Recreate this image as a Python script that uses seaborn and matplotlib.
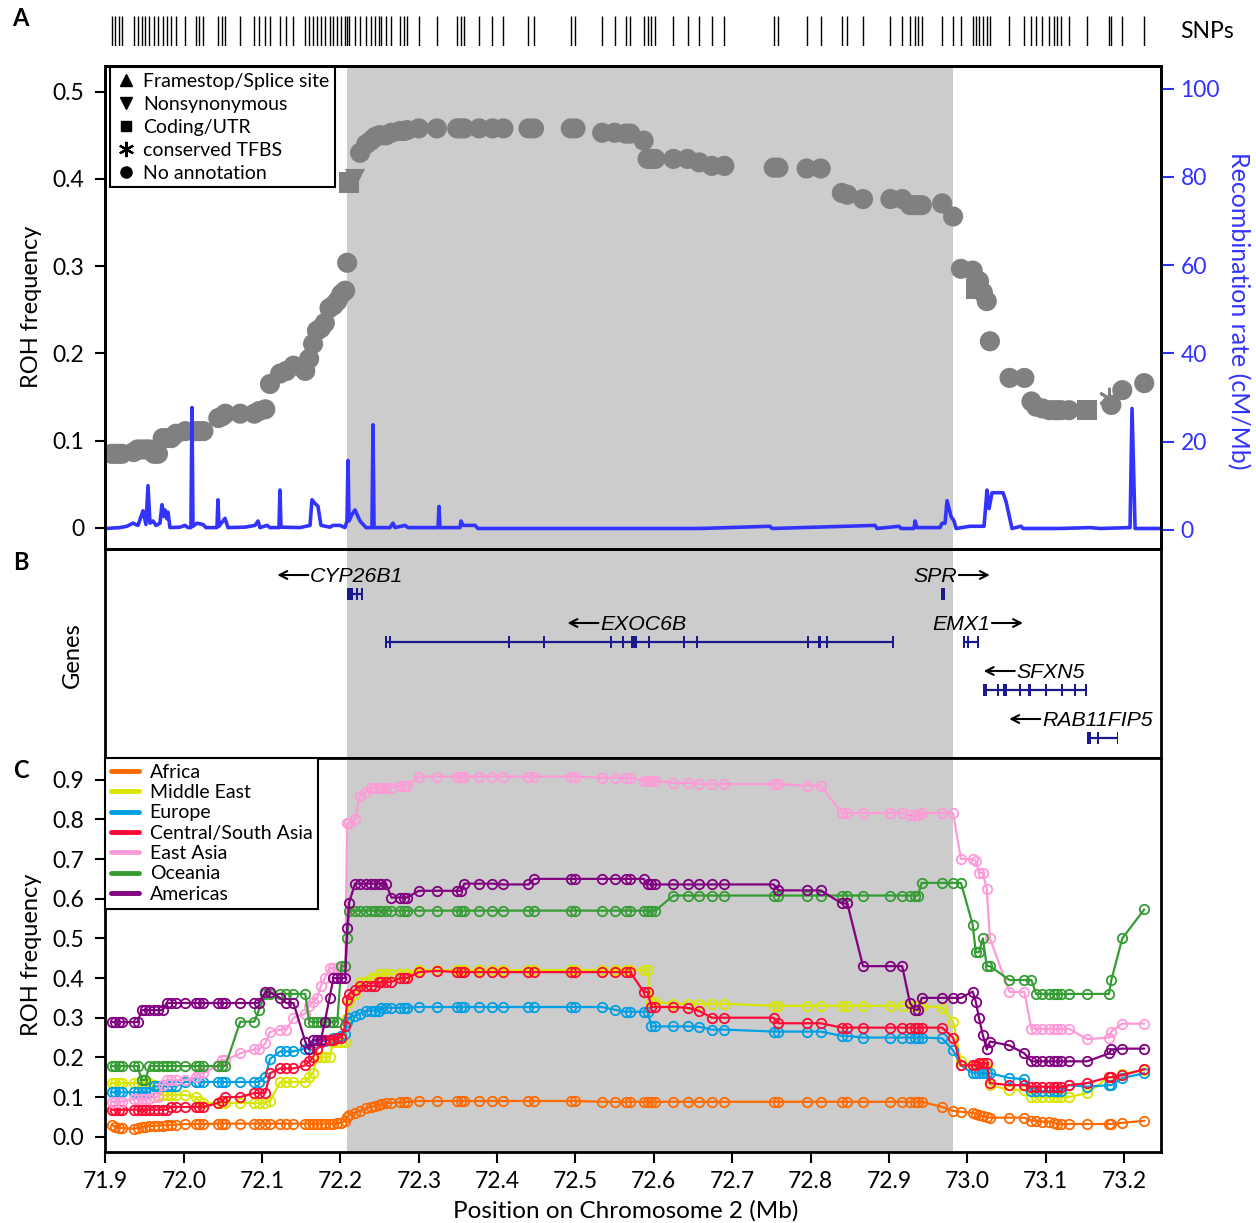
import matplotlib
matplotlib.use("Agg")
import matplotlib.pyplot as plt
from matplotlib.lines import Line2D
from matplotlib.patches import Rectangle
import numpy as np
import pandas as pd
import seaborn as sns

# ------------------------------------------------------------------ data
snp_pos = [
    71.908, 71.912, 71.917, 71.921, 71.936, 71.941, 71.946, 71.951, 71.956, 71.962,
    71.967, 71.973, 71.978, 71.984, 71.990, 72.002, 72.015, 72.020, 72.025, 72.044,
    72.049, 72.053, 72.072, 72.090, 72.096, 72.104, 72.110, 72.123, 72.131, 72.140,
    72.155, 72.160, 72.165, 72.170, 72.175, 72.180, 72.186, 72.191, 72.196, 72.201,
    72.206, 72.2085, 72.211, 72.2185,
    72.225, 72.233, 72.239, 72.244, 72.249, 72.252, 72.258,
    72.265, 72.276, 72.281, 72.285, 72.300, 72.323, 72.349, 72.354, 72.358, 72.377,
    72.394, 72.408, 72.440, 72.447, 72.494, 72.500, 72.534, 72.550, 72.564, 72.570,
    72.587, 72.592, 72.597, 72.602, 72.625, 72.643, 72.658, 72.674, 72.690, 72.753,
    72.759, 72.795, 72.813, 72.840, 72.847, 72.867, 72.902, 72.917, 72.927, 72.933,
    72.937, 72.942, 72.968, 72.982, 72.992, 73.007, 73.011, 73.015, 73.020, 73.025,
    73.029, 73.054, 73.073, 73.082, 73.088, 73.096, 73.105, 73.111, 73.115, 73.120,
    73.130, 73.153, 73.181, 73.184, 73.198, 73.226]

roh_all = [
    0.085, 0.085, 0.085, 0.085, 0.087, 0.090, 0.090, 0.090, 0.090, 0.085,
    0.085, 0.103, 0.103, 0.103, 0.108, 0.111, 0.111, 0.111, 0.111, 0.126,
    0.128, 0.131, 0.131, 0.131, 0.134, 0.136, 0.165, 0.177, 0.180, 0.186,
    0.180, 0.194, 0.211, 0.226, 0.229, 0.235, 0.252, 0.255, 0.260, 0.268,
    0.272, 0.304, 0.396, 0.400,
    0.430, 0.440, 0.444, 0.448, 0.450, 0.450, 0.450,
    0.453, 0.455, 0.455, 0.456, 0.458, 0.458, 0.458, 0.458, 0.458, 0.458,
    0.458, 0.458, 0.458, 0.458, 0.458, 0.458, 0.453, 0.453, 0.452, 0.452,
    0.444, 0.423, 0.423, 0.423, 0.423, 0.423, 0.419, 0.415, 0.415, 0.413,
    0.413, 0.412, 0.412, 0.384, 0.382, 0.377, 0.377, 0.377, 0.370, 0.370,
    0.370, 0.370, 0.372, 0.357, 0.297, 0.295, 0.274, 0.283, 0.270, 0.260,
    0.214, 0.172, 0.172, 0.145, 0.139, 0.137, 0.135, 0.135, 0.135, 0.135,
    0.135, 0.135, 0.149, 0.141, 0.158, 0.166]

annot_categories = ["Framestop/Splice site", "Nonsynonymous", "Coding/UTR",
                    "conserved TFBS", "No annotation"]
annot_pos = [72.211, 72.2185, 73.011, 73.153, 73.181]
annot_type = ["Coding/UTR", "Nonsynonymous", "Coding/UTR", "Coding/UTR", "conserved TFBS"]

recomb_pos = [
    71.900, 71.9185, 71.9274, 71.9351, 71.9415, 71.9479, 71.9517, 71.9543, 71.9568, 71.9606,
    71.9645, 71.9696, 71.9721, 71.9747, 71.9760, 71.9785, 71.9798, 71.9823, 71.9951, 72.0015,
    72.0053, 72.0091, 72.0104, 72.0117, 72.0168, 72.0245, 72.0283, 72.0423, 72.0436, 72.0449,
    72.0526, 72.0564, 72.0781, 72.0909, 72.0947, 72.0972, 72.1062, 72.1100, 72.1215, 72.1228,
    72.1240, 72.1483, 72.1611, 72.1636, 72.1674, 72.1713, 72.1751, 72.1866, 72.1904, 72.1994,
    72.2057, 72.2083, 72.2096, 72.2109, 72.2147, 72.2185, 72.2249, 72.2326, 72.2402, 72.2415,
    72.2428, 72.2632, 72.2670, 72.2696, 72.2823, 72.2862, 72.3245, 72.3257, 72.3270, 72.3526,
    72.3538, 72.3564, 72.3717, 72.3755, 72.5313, 72.6589, 72.7483, 72.7509, 72.8823, 72.8849,
    72.9130, 72.9155, 72.9321, 72.9334, 72.9360, 72.9653, 72.9679, 72.9717, 72.9743, 72.9794,
    72.9832, 72.9858, 73.0036, 73.0215, 73.0253, 73.0279, 73.0317, 73.0457, 73.0496, 73.0572,
    73.0687, 73.0713, 73.1185, 73.1568, 73.1696, 73.2079, 73.2104, 73.2143, 73.2474]
recomb_rate = [
    0.3, 0.5, 0.8, 1.5, 1.0, 4.3, 1.2, 10.0, 1.5, 2.0,
    1.0, 1.5, 5.7, 3.0, 4.5, 2.5, 4.0, 0.5, 0.6, 1.0,
    0.5, 0.5, 27.7, 0.8, 1.5, 1.2, 0.5, 0.5, 6.8, 0.8,
    2.6, 0.5, 0.6, 1.0, 2.0, 0.5, 1.0, 0.5, 0.5, 9.0,
    0.6, 0.5, 1.0, 6.8, 6.0, 5.3, 1.0, 0.6, 1.0, 1.0,
    0.5, 2.0, 15.7, 2.0, 3.5, 4.5, 2.0, 0.5, 0.5, 23.8,
    0.5, 0.5, 1.5, 0.5, 1.0, 0.5, 0.5, 5.3, 0.5, 0.5,
    2.0, 1.0, 1.0, 0.3, 0.3, 0.3, 0.8, 0.3, 1.0, 0.3,
    0.8, 0.3, 0.3, 2.0, 0.5, 0.5, 1.5, 1.5, 6.6, 3.0,
    2.0, 0.3, 0.8, 0.8, 9.0, 4.8, 8.4, 8.4, 6.4, 0.3,
    0.8, 0.3, 0.3, 0.5, 0.3, 0.5, 27.5, 0.3, 0.3]

gene_names = ["CYP26B1", "EXOC6B", "SPR", "EMX1", "SFXN5", "RAB11FIP5"]
gene_start = [72.2083, 72.2581, 72.9666, 72.9960, 73.0202, 73.1530]
gene_end = [72.2287, 72.9053, 72.9717, 73.0138, 73.1517, 73.1925]
gene_strand = ["-", "-", "+", "+", "-", "-"]
gene_row = [0, 1, 0, 1, 2, 3]
gene_exons = [
    [(72.2083, 72.2160), (72.2211, 72.2211), (72.2262, 72.2287)],
    [(72.2581, 72.2581), (72.2632, 72.2632), (72.4151, 72.4151), (72.4598, 72.4598),
     (72.5453, 72.5453), (72.5606, 72.5606), (72.5709, 72.5785), (72.5926, 72.5951),
     (72.6385, 72.6385), (72.6551, 72.6551), (72.7968, 72.7968), (72.8096, 72.8134),
     (72.8211, 72.8211), (72.9053, 72.9053)],
    [(72.9666, 72.9717)],
    [(72.9960, 72.9960), (73.0011, 73.0011), (73.0138, 73.0138)],
    [(73.0202, 73.0253), (73.0393, 73.0393), (73.0457, 73.0509), (73.0674, 73.0674),
     (73.0777, 73.0815), (73.0993, 73.1019), (73.1211, 73.1211), (73.1376, 73.1376),
     (73.1517, 73.1517)],
    [(73.1530, 73.1581), (73.1670, 73.1670), (73.1913, 73.1925)],
]

pop_names = ["Africa", "Middle East", "Europe", "Central/South Asia",
             "East Asia", "Oceania", "Americas"]

africa = [
    0.030, 0.025, 0.022, 0.022, 0.020, 0.022, 0.024, 0.025, 0.027, 0.027,
    0.028, 0.028, 0.030, 0.030, 0.030, 0.032, 0.032, 0.032, 0.032, 0.033,
    0.033, 0.033, 0.033, 0.033, 0.033, 0.033, 0.033, 0.033, 0.033, 0.033,
    0.033, 0.033, 0.033, 0.033, 0.033, 0.033, 0.033, 0.033, 0.034, 0.035,
    0.040, 0.050, 0.055, 0.060,
    0.065, 0.072, 0.075, 0.078, 0.080, 0.082, 0.085,
    0.085, 0.087, 0.088, 0.088, 0.090, 0.090, 0.090, 0.090, 0.090, 0.090,
    0.090, 0.090, 0.090, 0.090, 0.090, 0.090, 0.088, 0.088, 0.088, 0.088,
    0.088, 0.088, 0.088, 0.088, 0.088, 0.088, 0.088, 0.088, 0.088, 0.088,
    0.088, 0.088, 0.088, 0.088, 0.088, 0.088, 0.088, 0.088, 0.088, 0.088,
    0.088, 0.088, 0.075, 0.065, 0.063, 0.060, 0.058, 0.055, 0.052, 0.050,
    0.048, 0.048, 0.048, 0.040, 0.040, 0.038, 0.038, 0.035, 0.032, 0.032,
    0.032, 0.032, 0.032, 0.032, 0.035, 0.040]

middle_east = [
    0.135, 0.135, 0.135, 0.135, 0.135, 0.135, 0.135, 0.135, 0.135, 0.130,
    0.105, 0.105, 0.105, 0.105, 0.105, 0.105, 0.100, 0.090, 0.085, 0.085,
    0.085, 0.085, 0.085, 0.085, 0.085, 0.085, 0.090, 0.138, 0.138, 0.138,
    0.138, 0.150, 0.160, 0.200, 0.200, 0.200, 0.200, 0.240, 0.240, 0.240,
    0.240, 0.300, 0.340, 0.360,
    0.390, 0.390, 0.400, 0.400, 0.410, 0.410, 0.410,
    0.410, 0.410, 0.410, 0.410, 0.420, 0.420, 0.420, 0.420, 0.420, 0.420,
    0.420, 0.420, 0.420, 0.420, 0.420, 0.420, 0.420, 0.420, 0.420, 0.420,
    0.420, 0.420, 0.340, 0.340, 0.335, 0.335, 0.335, 0.335, 0.335, 0.330,
    0.330, 0.330, 0.330, 0.330, 0.330, 0.330, 0.330, 0.330, 0.330, 0.330,
    0.330, 0.330, 0.325, 0.290, 0.190, 0.180, 0.180, 0.180, 0.180, 0.175,
    0.130, 0.118, 0.118, 0.100, 0.100, 0.100, 0.100, 0.100, 0.100, 0.100,
    0.100, 0.110, 0.150, 0.150, 0.158, 0.168]

europe = [
    0.112, 0.112, 0.112, 0.112, 0.112, 0.112, 0.112, 0.112, 0.112, 0.127,
    0.127, 0.127, 0.127, 0.127, 0.127, 0.138, 0.138, 0.138, 0.138, 0.138,
    0.138, 0.138, 0.138, 0.138, 0.138, 0.150, 0.196, 0.215, 0.215, 0.215,
    0.222, 0.222, 0.230, 0.236, 0.240, 0.242, 0.245, 0.248, 0.250, 0.255,
    0.260, 0.290, 0.300, 0.305,
    0.310, 0.318, 0.318, 0.318, 0.318, 0.325, 0.325,
    0.325, 0.325, 0.325, 0.325, 0.327, 0.327, 0.327, 0.327, 0.327, 0.327,
    0.327, 0.327, 0.327, 0.327, 0.327, 0.327, 0.327, 0.320, 0.315, 0.315,
    0.315, 0.315, 0.278, 0.278, 0.278, 0.278, 0.277, 0.270, 0.270, 0.265,
    0.265, 0.265, 0.265, 0.254, 0.254, 0.250, 0.250, 0.250, 0.250, 0.250,
    0.250, 0.250, 0.248, 0.218, 0.180, 0.160, 0.160, 0.160, 0.160, 0.160,
    0.160, 0.148, 0.145, 0.115, 0.115, 0.115, 0.115, 0.115, 0.115, 0.115,
    0.130, 0.126, 0.130, 0.130, 0.148, 0.160]

central_south_asia = [
    0.068, 0.068, 0.068, 0.068, 0.068, 0.068, 0.068, 0.068, 0.068, 0.068,
    0.068, 0.068, 0.068, 0.075, 0.075, 0.075, 0.075, 0.075, 0.075, 0.085,
    0.090, 0.100, 0.100, 0.110, 0.110, 0.110, 0.160, 0.172, 0.172, 0.172,
    0.180, 0.190, 0.200, 0.220, 0.240, 0.245, 0.245, 0.245, 0.250, 0.250,
    0.280, 0.345, 0.360, 0.370,
    0.380, 0.380, 0.380, 0.380, 0.390, 0.390, 0.390,
    0.390, 0.400, 0.400, 0.400, 0.415, 0.418, 0.415, 0.415, 0.415, 0.415,
    0.415, 0.415, 0.415, 0.415, 0.415, 0.415, 0.415, 0.415, 0.415, 0.415,
    0.365, 0.365, 0.327, 0.327, 0.327, 0.325, 0.317, 0.300, 0.300, 0.300,
    0.286, 0.286, 0.286, 0.275, 0.275, 0.275, 0.275, 0.275, 0.275, 0.275,
    0.275, 0.275, 0.275, 0.250, 0.180, 0.180, 0.180, 0.185, 0.185, 0.185,
    0.135, 0.130, 0.130, 0.126, 0.126, 0.126, 0.126, 0.126, 0.126, 0.126,
    0.130, 0.135, 0.150, 0.150, 0.155, 0.170]

east_asia = [
    0.088, 0.088, 0.088, 0.088, 0.095, 0.095, 0.095, 0.095, 0.095, 0.100,
    0.100, 0.130, 0.143, 0.143, 0.143, 0.143, 0.150, 0.160, 0.160, 0.180,
    0.193, 0.193, 0.210, 0.220, 0.220, 0.235, 0.264, 0.270, 0.270, 0.300,
    0.310, 0.330, 0.340, 0.350, 0.380, 0.400, 0.425, 0.425, 0.425, 0.425,
    0.425, 0.790, 0.790, 0.800,
    0.860, 0.870, 0.880, 0.880, 0.880, 0.880, 0.880,
    0.880, 0.885, 0.885, 0.885, 0.908, 0.908, 0.908, 0.908, 0.908, 0.908,
    0.908, 0.908, 0.908, 0.908, 0.908, 0.908, 0.905, 0.905, 0.905, 0.905,
    0.897, 0.897, 0.897, 0.897, 0.892, 0.892, 0.889, 0.889, 0.889, 0.889,
    0.889, 0.885, 0.885, 0.816, 0.816, 0.816, 0.816, 0.816, 0.810, 0.810,
    0.810, 0.816, 0.816, 0.816, 0.700, 0.700, 0.695, 0.665, 0.665, 0.625,
    0.500, 0.365, 0.365, 0.272, 0.272, 0.272, 0.272, 0.272, 0.272, 0.272,
    0.272, 0.246, 0.250, 0.265, 0.285, 0.285]

oceania = [
    0.178, 0.178, 0.178, 0.178, 0.178, 0.178, 0.143, 0.143, 0.178, 0.178,
    0.178, 0.178, 0.178, 0.178, 0.178, 0.178, 0.178, 0.178, 0.178, 0.178,
    0.178, 0.178, 0.290, 0.290, 0.320, 0.360, 0.360, 0.360, 0.360, 0.360,
    0.360, 0.290, 0.290, 0.290, 0.290, 0.290, 0.290, 0.290, 0.290, 0.430,
    0.430, 0.500, 0.570, 0.570,
    0.570, 0.570, 0.570, 0.570, 0.570, 0.570, 0.570,
    0.570, 0.570, 0.570, 0.570, 0.570, 0.570, 0.570, 0.570, 0.570, 0.570,
    0.570, 0.570, 0.570, 0.570, 0.570, 0.570, 0.570, 0.570, 0.570, 0.570,
    0.570, 0.570, 0.570, 0.570, 0.608, 0.608, 0.608, 0.608, 0.608, 0.608,
    0.608, 0.608, 0.608, 0.608, 0.608, 0.608, 0.608, 0.608, 0.608, 0.608,
    0.608, 0.640, 0.640, 0.640, 0.640, 0.535, 0.465, 0.465, 0.500, 0.430,
    0.430, 0.395, 0.395, 0.395, 0.360, 0.360, 0.360, 0.360, 0.360, 0.360,
    0.360, 0.360, 0.360, 0.395, 0.500, 0.573]

americas = [
    0.289, 0.289, 0.289, 0.289, 0.289, 0.289, 0.319, 0.319, 0.319, 0.319,
    0.319, 0.319, 0.337, 0.337, 0.337, 0.337, 0.337, 0.337, 0.337, 0.337,
    0.337, 0.337, 0.337, 0.337, 0.337, 0.365, 0.365, 0.350, 0.337, 0.337,
    0.240, 0.220, 0.244, 0.244, 0.244, 0.290, 0.350, 0.400, 0.400, 0.400,
    0.400, 0.525, 0.590, 0.638,
    0.638, 0.638, 0.638, 0.638, 0.638, 0.638, 0.638,
    0.603, 0.603, 0.603, 0.603, 0.620, 0.620, 0.620, 0.620, 0.638, 0.638,
    0.638, 0.636, 0.636, 0.650, 0.650, 0.650, 0.650, 0.650, 0.650, 0.650,
    0.650, 0.636, 0.636, 0.636, 0.636, 0.636, 0.636, 0.636, 0.636, 0.636,
    0.621, 0.621, 0.621, 0.588, 0.588, 0.430, 0.430, 0.430, 0.337, 0.320,
    0.320, 0.350, 0.350, 0.350, 0.350, 0.366, 0.340, 0.300, 0.256, 0.220,
    0.240, 0.230, 0.210, 0.190, 0.190, 0.190, 0.190, 0.190, 0.190, 0.190,
    0.190, 0.190, 0.210, 0.220, 0.222, 0.222]

x_ticks = [71.9, 72.0, 72.1, 72.2, 72.3, 72.4, 72.5, 72.6, 72.7, 72.8, 72.9, 73.0, 73.1, 73.2]
x_ticklabels = ["71.9", "72.0", "72.1", "72.2", "72.3", "72.4", "72.5", "72.6",
                "72.7", "72.8", "72.9", "73.0", "73.1", "73.2"]
a_yticks = [0, 0.1, 0.2, 0.3, 0.4, 0.5]
a_yticklabels = ["0", "0.1", "0.2", "0.3", "0.4", "0.5"]
r_yticks = [0, 20, 40, 60, 80, 100]
c_yticks = [0.0, 0.1, 0.2, 0.3, 0.4, 0.5, 0.6, 0.7, 0.8, 0.9]
c_yticklabels = ["0.0", "0.1", "0.2", "0.3", "0.4", "0.5", "0.6", "0.7", "0.8", "0.9"]
shade_region = (72.2087, 72.9820)

# ------------------------------------------------------------------ style
sns.set_style("ticks", {"axes.edgecolor": "black", "text.color": "black",
                        "xtick.color": "black", "ytick.color": "black",
                        "axes.labelcolor": "black"})
plt.rcParams["font.family"] = ["Lato", "DejaVu Sans"]

pop_colors = ["#ff6a00", "#d8e600", "#009fe3", "#ff0a35", "#ff9ad8", "#359c33", "#800080"]
gray = "#808080"
blue = "#3333ff"
navy = "#1a1a8c"
shade = "#cccccc"

W, H = 1256, 1223
fig = plt.figure(figsize=(W / 100, H / 100), dpi=100)


def rect(x0, y0, x1, y1):
    return [x0 / W, 1 - y1 / H, (x1 - x0) / W, (y1 - y0) / H]


XL = (71.8994, 73.2474)
ax_snp = fig.add_axes(rect(105, 16, 1161, 46))
axA = fig.add_axes(rect(105, 66, 1161, 549))
axB = fig.add_axes(rect(105, 549, 1161, 758))
axC = fig.add_axes(rect(105, 758, 1161, 1152))

for ax in (ax_snp, axA, axB, axC):
    ax.set_xlim(*XL)

# ---- SNP strip
sns.rugplot(x=snp_pos, height=1.0, ax=ax_snp, color="black", lw=1.8, expand_margins=False)
ax_snp.set_ylim(0, 1)
ax_snp.axis("off")

# ---- Panel A
axA.axvspan(*shade_region, color=shade, lw=0, zorder=0)
dfA = pd.DataFrame({"pos": snp_pos, "roh": roh_all})
amap = dict(zip(annot_pos, annot_type))
dfA["annot"] = [amap.get(p, "No annotation") for p in snp_pos]
star = dfA[dfA["annot"] == "conserved TFBS"]
axA.scatter(star["pos"], star["roh"], marker=(6, 2, 0), s=190, color=gray,
            linewidths=2, zorder=2)
filled = dfA[dfA["annot"] != "conserved TFBS"]
sns.scatterplot(data=filled, x="pos", y="roh", style="annot",
                markers={"No annotation": "o", "Coding/UTR": "s", "Nonsynonymous": "v",
                         "Framestop/Splice site": "^"},
                s=210, color=gray, linewidth=0, legend=False, ax=axA, zorder=3)
axA.set_ylim(-0.0241, 0.5295)
axA.set_yticks(a_yticks)
axA.set_yticklabels(a_yticklabels)
axA.set_xticks([])
axA.set_xlabel("")
axA.set_ylabel("")

axR = axA.twinx()
sns.lineplot(x=recomb_pos, y=recomb_rate, ax=axR, color=blue, lw=2.6,
             estimator=None, sort=False)
axR.set_xlim(*XL)
axR.set_ylim(-4.35, 105.1)
axR.set_yticks(r_yticks)
axR.tick_params(axis="y", colors=blue, labelsize=16.5, length=9, width=1.5, pad=5)
axR.set_ylabel("")

hA = [Line2D([], [], ls="none", marker="^", color="k", ms=9),
      Line2D([], [], ls="none", marker="v", color="k", ms=9),
      Line2D([], [], ls="none", marker="s", color="k", ms=7),
      Line2D([], [], ls="none", marker=(6, 2, 0), color="k", ms=11, mew=1.6),
      Line2D([], [], ls="none", marker="o", color="k", ms=8)]
legA = axA.legend(hA, annot_categories, loc="upper left", bbox_to_anchor=(5 / 1056, 0.997),
                  borderaxespad=0, frameon=True, fancybox=False, edgecolor="black",
                  framealpha=1, fontsize=14, handlelength=1.0, handletextpad=0.4,
                  labelspacing=0.3, borderpad=0.3)
legA.get_frame().set_linewidth(1.5)

# ---- Panel B
axB.axvspan(*shade_region, color=shade, lw=0, zorder=0)
axB.set_ylim(0, 209)
axB.set_xticks([])
axB.set_yticks([])
mb_per_px = (XL[1] - XL[0]) / 1056
label_x = {"CYP26B1": 72.2211, "EXOC6B": 72.5868, "SPR": 72.9589,
           "EMX1": 72.9921, "SFXN5": 73.1070, "RAB11FIP5": 73.1664}
texts = []
for name, s, e, strand, r, exons in zip(gene_names, gene_start, gene_end,
                                        gene_strand, gene_row, gene_exons):
    y = 164 - 48 * r
    axB.plot([s, e], [y, y], color=navy, lw=1.6, solid_capstyle="butt", zorder=3)
    for a, b in exons:
        if b > a:
            axB.add_patch(Rectangle((a, y - 6), b - a, 12, facecolor=navy,
                                    edgecolor="none", zorder=3))
        else:
            w = 2.2 * mb_per_px
            axB.add_patch(Rectangle((a - w / 2, y - 6), w, 12, facecolor=navy,
                                    edgecolor="none", zorder=3))
    yl = y + 19
    t = axB.text(label_x[name], yl - 7.5, name, ha="center", va="baseline",
                 fontsize=15.3, style="italic", family=["Liberation Sans", "DejaVu Sans"],
                 zorder=4)
    texts.append((t, strand, yl))

# ---- Panel C
axC.axvspan(*shade_region, color=shade, lw=0, zorder=0)
pop_values = [africa, middle_east, europe, central_south_asia, east_asia, oceania, americas]
for name, vals, col in zip(pop_names, pop_values, pop_colors):
    sns.lineplot(x=snp_pos, y=vals, ax=axC, color=col, lw=1.6, marker="o",
                 markersize=6.8, markerfacecolor="none", markeredgecolor=col,
                 markeredgewidth=1.3, estimator=None, sort=False, legend=False)
axC.set_ylim(-0.0386, 0.9548)
axC.set_yticks(c_yticks)
axC.set_yticklabels(c_yticklabels)
axC.set_xticks(x_ticks)
axC.set_xticklabels(x_ticklabels)
axC.set_xlabel("")
axC.set_ylabel("")
hC = [Line2D([], [], color=c, lw=3.5) for c in pop_colors]
legC = axC.legend(hC, pop_names, loc="upper left", bbox_to_anchor=(0.0, 1.0),
                  borderaxespad=0, frameon=True, fancybox=False, edgecolor="black",
                  framealpha=1, fontsize=14, handlelength=1.45, handletextpad=0.55,
                  labelspacing=0.17, borderpad=0.3)
legC.get_frame().set_linewidth(1.5)

# ---- common styling
for ax in (axA, axB, axC, axR):
    for sp in ax.spines.values():
        sp.set_linewidth(2)
        sp.set_color("black")
for ax in (axA, axC):
    ax.tick_params(axis="both", direction="out", length=7, width=1.5, labelsize=16.5, pad=8)
axC.tick_params(axis="x", length=8, pad=6)

# ---- text labels
def ftext(x, y, s, **kw):
    fig.text(x / W, 1 - y / H, s, ha="center", va="center", **kw)

ftext(20, 18, "A", fontsize=17, fontweight="bold")
ftext(21, 562, "B", fontsize=17, fontweight="bold")
ftext(21, 770, "C", fontsize=17, fontweight="bold")
ftext(31, 307, "ROH frequency", fontsize=17, rotation=90)
ftext(72, 655, "Genes", fontsize=17, rotation=90)
ftext(31, 955, "ROH frequency", fontsize=17, rotation=90)
ftext(1238, 311, "Recombination rate (cM/Mb)", fontsize=18, rotation=270, color=blue)
ftext(626, 1211, "Position on Chromosome 2 (Mb)", fontsize=17.5)
ftext(1207, 32, "SNPs", fontsize=16.5)

# ---- gene arrows (placed next to rendered labels)
fig.canvas.draw()
inv = axB.transData.inverted()
for t, strand, yl in texts:
    bb = t.get_window_extent()
    if strand == "-":
        tail, head = bb.x0 - 2, bb.x0 - 33
    else:
        tail, head = bb.x1 + 2, bb.x1 + 33
    xt = inv.transform((tail, 0))[0]
    xh = inv.transform((head, 0))[0]
    axB.annotate("", xy=(xh, yl), xytext=(xt, yl),
                 arrowprops=dict(arrowstyle="->,head_length=0.55,head_width=0.28",
                                 lw=1.5, color="black", shrinkA=0, shrinkB=0))

fig.savefig("out.png", dpi=100)
